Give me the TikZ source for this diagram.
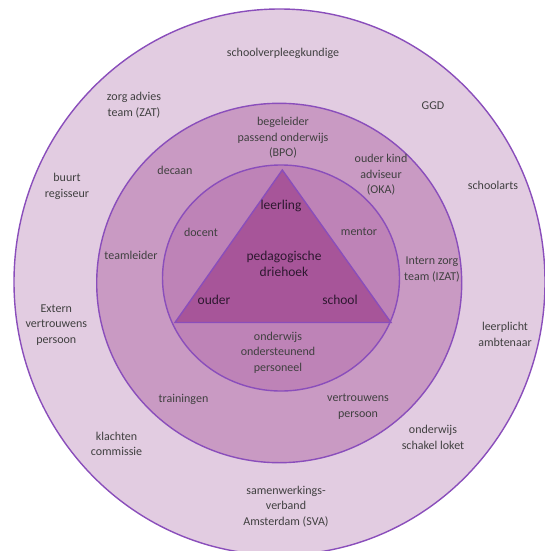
\documentclass[tikz,border=0pt]{standalone}
\usepackage{fontspec}
\setmainfont{Carlito}
\usepackage{tikz}
\definecolor{ringline}{HTML}{8A4EBB}
\definecolor{ringout}{HTML}{E2CCE1}
\definecolor{ringmid}{HTML}{C99AC3}
\definecolor{ringin}{HTML}{BE83B7}
\definecolor{trifill}{HTML}{A75599}
\definecolor{txtgray}{HTML}{404040}
\definecolor{txtcore}{HTML}{2E1830}
\newcommand{\lblsize}{\fontsize{12}{15.5}\selectfont}
\newcommand{\coresize}{\fontsize{13.5}{16.7}\selectfont}

\begin{document}
\begin{tikzpicture}[x=1pt,y=-1pt,
    ring/.style={draw=ringline, line width=1.4pt},
    lbl/.style={align=center, inner sep=0pt, text=txtgray, font=\lblsize},
    core/.style={align=center, inner sep=0pt, text=txtcore, font=\coresize}]
      \useasboundingbox (0,0) rectangle (545,551);
          % rings
      \draw[ring, fill=ringout] (279.5,282) ellipse [x radius=265.5, y radius=273];
      \draw[ring, fill=ringmid] (279.2,283) ellipse [x radius=182.5, y radius=179.7];
      \draw[ring, fill=ringin] (281,278) ellipse [x radius=118.5, y radius=113];
          % triangle
      \coordinate (top) at (282.3,170);
      \coordinate (bl) at (175,322.5);
      \coordinate (br) at (391,322.5);
      \draw[ring, fill=trifill, line join=miter] (top) -- (bl) -- (br) -- cycle;

          % pedagogische driehoek
      \node (leer) at (281,206) [core] {leerling};
      \node (ped) at (284,263.8) [core] {pedagogische\\driehoek};
      \node (oud) at (214,300) [core] {ouder};
      \node (sch) at (340,300) [core] {school};

          % inner ring
      \node (doc) at (201,232) [lbl] {docent};
      \node (men) at (359,232) [lbl] {mentor};
      \node (oop) at (278,352.3) [lbl] {onderwijs\\ondersteunend\\personeel};

          % middle ring
      \node (bpo) at (283,138) [lbl] {begeleider\\passend onderwijs\\(BPO)};
      \node (dec) at (175,170) [lbl] {decaan};
      \node (oka) at (381,175) [lbl] {ouder kind\\adviseur\\(OKA)};
      \node (tml) at (131,255) [lbl] {teamleider};
      \node (izat) at (432,269.5) [lbl] {Intern zorg\\team (IZAT)};
      \node (trn) at (183.5,399) [lbl] {trainingen};
      \node (vtp) at (358,406.5) [lbl] {vertrouwens\\persoon};

          % outer ring
      \node (svk) at (283,53) [lbl] {schoolverpleegkundige};
      \node (zat) at (134,105) [lbl] {zorg advies\\team (ZAT)};
      \node (ggd) at (433,106) [lbl] {GGD};
      \node (brg) at (67,186.6) [lbl] {buurt\\regisseur};
      \node (sca) at (493,185) [lbl] {schoolarts};
      \node (evp) at (56.3,325) [lbl] {Extern\\vertrouwens\\persoon};
      \node (lpa) at (505,334.5) [lbl] {leerplicht\\ambtenaar};
      \node (klc) at (116.5,444) [lbl] {klachten\\commissie};
      \node (osl) at (433,437.5) [lbl] {onderwijs\\schakel loket};
      \node (sva) at (286,506.5) [lbl] {samenwerkings-\\verband\\Amsterdam (SVA)};
\end{tikzpicture}
\end{document}
